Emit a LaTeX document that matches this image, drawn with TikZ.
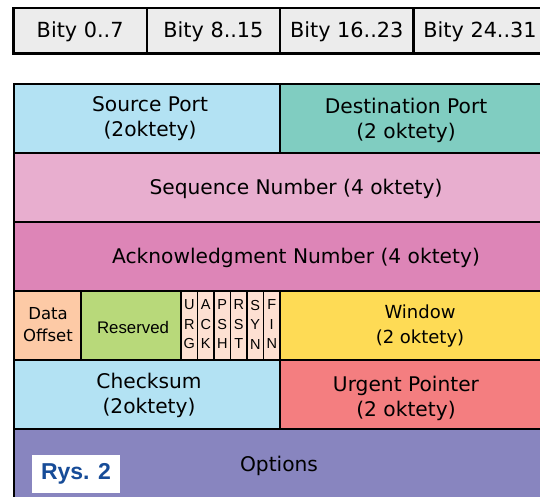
\documentclass[tikz,border=0pt]{standalone}
\usepackage{fontspec}
\setmainfont{DejaVu Sans}
\newfontfamily\arialfont{Liberation Sans}
\definecolor{hdrgray}{HTML}{ECECEC}
\definecolor{portblue}{HTML}{B3E2F3}
\definecolor{portteal}{HTML}{80CDC1}
\definecolor{seqpink}{HTML}{E8AECF}
\definecolor{ackpink}{HTML}{DD85B7}
\definecolor{offpeach}{HTML}{FDCAA6}
\definecolor{resgreen}{HTML}{B8D97A}
\definecolor{flagpeach}{HTML}{FDE0D2}
\definecolor{winyellow}{HTML}{FEDB55}
\definecolor{urgred}{HTML}{F47E80}
\definecolor{optpurple}{HTML}{8885BF}
\definecolor{rysblue}{HTML}{174C98}
\tikzset{
  cell/.style={draw=black, line width=2.6pt},
  lbl/.style={align=center, inner sep=0pt, font=\fontsize{20.2}{25}\selectfont},
  hdrlbl/.style={align=center, inner sep=0pt, font=\fontsize{20.8}{25}\selectfont},
  smalllbl/.style={align=center, inner sep=0pt, font=\fontsize{16.5}{22}\selectfont},
  flaglbl/.style={align=center, inner sep=0pt, font=\arialfont\fontsize{14.5}{19.5}\selectfont},
}
\begin{document}
\begin{tikzpicture}[x=1pt, y=-1pt]
\useasboundingbox (0,0) rectangle (540,496);
\clip (0,0) rectangle (540,496);

% bit ranges header
\foreach \i/\t in {0/Bity 0..7, 1/Bity 8..15, 2/Bity 16..23, 3/Bity 24..31}{
  \path[cell, fill=hdrgray] ({13.5+133.3*\i},8) rectangle ({13.5+133.3*(\i+1)},53.5);
  \node[hdrlbl] (h\i) at ({13.5+133.3*(\i+0.5)},32) {\t};
}

% header rows of the segment
\path[cell, fill=portblue]  (14,84)  rectangle (280,153);
\path[cell, fill=portteal]  (280,84) rectangle (560,153);
\path[cell, fill=seqpink]   (14,153) rectangle (560,222);
\path[cell, fill=ackpink]   (14,222) rectangle (560,291);
\path[cell, fill=offpeach]  (14,291) rectangle (81,360);
\path[cell, fill=resgreen]  (81,291) rectangle (181,360);
\foreach \k in {0,...,5}{
  \path[cell, fill=flagpeach, line width=1.6pt] ({181+16.5*\k},291) rectangle ({181+16.5*(\k+1)},360);
}
\path[cell, fill=winyellow] (280,291) rectangle (560,360);
\path[cell, fill=portblue]  (14,360) rectangle (280,429);
\path[cell, fill=urgred]    (280,360) rectangle (560,429);
\path[cell, fill=optpurple] (14,429) rectangle (560,520);
% outer frame of the flags row
\draw[line width=2.6pt] (181,291) rectangle (280,360);

% field labels
\node[lbl] (src) at (150,118.5) {Source Port\\(2oktety)};
\node[lbl] (dst) at (406,120.5) {Destination Port\\(2 oktety)};
\node[lbl] (seq) at (296,188.5) {Sequence Number (4 oktety)};
\node[lbl] (ack) at (296,257.5) {Acknowledgment Number (4 oktety)};
\node[smalllbl] (off) at (48,325) {Data\\Offset};
\node[smalllbl, font=\arialfont\fontsize{16.8}{20}\selectfont] (res) at (133,327) {Reserved};
\foreach \k/\a/\b/\c in {0/U/R/G, 1/A/C/K, 2/P/S/H, 3/R/S/T, 4/S/Y/N, 5/F/I/N}{
  \node[flaglbl] (f\k) at ({181+16.5*(\k+0.5)},324.5) {\a\\\b\\\c};
}
\node[lbl, font=\fontsize{18}{25}\selectfont] (win) at (420,326) {Window\\(2 oktety)};
\node[lbl] (chk) at (149,395.5) {Checksum\\(2oktety)};
\node[lbl] (urg) at (406,398.5) {Urgent Pointer\\(2 oktety)};
\node[lbl] (opt) at (279,466) {Options};

% figure tag
\fill[white] (32,454.5) rectangle (120,493);
\node[font=\arialfont\bfseries\fontsize{23}{26}\selectfont, text=rysblue, inner sep=0pt] (rys) at (76,474) {Rys. 2};
\end{tikzpicture}
\end{document}
